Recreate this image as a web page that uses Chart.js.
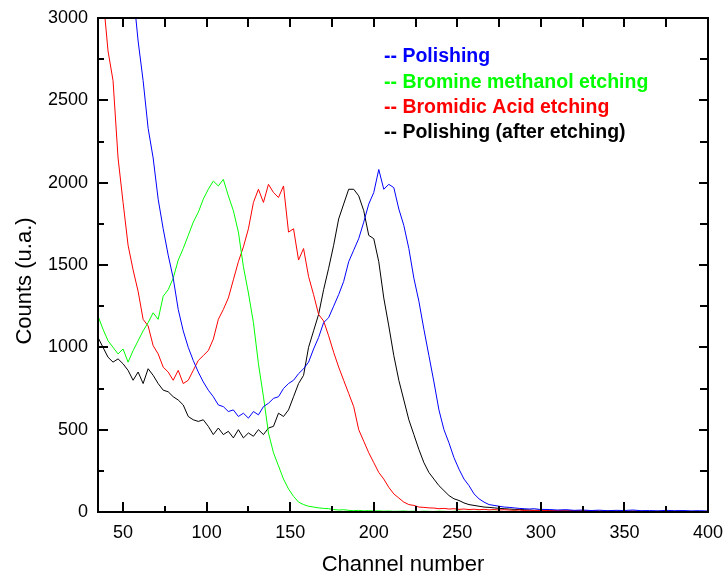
<!DOCTYPE html>
<html lang="en">
<head>
    <meta charset="UTF-8">
    <title>Counts vs channel</title>
    <script src="https://cdn.jsdelivr.net/npm/chart.js"></script>
    <style>
        body { margin: 0; background: #fff; }
    </style>
</head>
<body>
    <canvas id="grafico" width="724" height="575"></canvas>

<script>
    // channel numbers (x)
    const canais = [35, 38, 41, 44, 47, 50, 53, 56, 59, 62, 65, 68, 71, 74, 77, 80, 83, 86, 89, 92,
        95, 98, 101, 104, 107, 110, 113, 116, 119, 122, 125, 128, 131, 134, 137, 140, 143, 146, 149, 152,
        155, 158, 161, 164, 167, 170, 173, 176, 179, 182, 185, 188, 191, 194, 197, 200, 203, 206, 209, 212,
        215, 218, 221, 224, 227, 230, 233, 236, 239, 242, 245, 248, 251, 254, 257, 260, 263, 266, 269, 272,
        275, 278, 281, 284, 287, 290, 293, 296, 299,
        305, 310, 315, 320, 325, 330, 335, 340, 345, 350, 355, 360, 365, 370, 375, 380, 385, 390, 395, 400];

    const polimento = [5500, 5150, 4800, 4450, 4100, 3750, 3450, 3170, 2860, 2620, 2330, 2150, 1900, 1720, 1560, 1420, 1230, 1100, 1000, 920,
        850, 790, 740, 700, 650, 640, 610, 620, 580, 600, 570, 610, 590, 640, 660, 690, 700, 750, 780, 800,
        840, 870, 910, 990, 1060, 1150, 1180, 1250, 1320, 1400, 1520, 1590, 1660, 1760, 1870, 1940, 2080, 1960, 1990, 1970,
        1840, 1740, 1600, 1420, 1280, 1110, 950, 790, 620, 500, 420, 330, 260, 200, 160, 110, 80, 60, 45, 40,
        35, 30, 28, 25, 22, 20, 18, 20, 16,
        15, 12, 14, 10, 12, 9, 11, 8, 10, 9, 12, 8, 9, 7, 10, 8, 9, 7, 8, 6];

    const bromoMetanol = [1190, 1110, 1040, 1000, 960, 990, 910, 980, 1040, 1100, 1150, 1210, 1170, 1310, 1350, 1420, 1530, 1600, 1680, 1760,
        1820, 1900, 1960, 2010, 1980, 2020, 1920, 1830, 1700, 1490, 1330, 1150, 900, 700, 480, 360, 280, 200, 140, 95,
        60, 45, 35, 30, 25, 22, 20, 15, 12, 14, 10, 8, 10, 7, 8, 6, 7, 5, 6, 4,
        5, 6, 4, 5, 3, 5, 4, 3, 5, 4, 3, 4, 5, 3, 4, 3, 4, 2, 3, 4,
        3, 2, 3, 4, 2, 3, 2, 3, 2,
        3, 2, 3, 2, 2, 3, 2, 2, 3, 2, 2, 2, 3, 2, 2, 2, 2, 3, 2, 2];

    const acidoBromidrico = [3350, 3130, 2800, 2620, 2150, 1880, 1620, 1470, 1340, 1170, 1130, 1010, 960, 880, 850, 800, 860, 780, 800, 860,
        920, 950, 980, 1050, 1170, 1230, 1300, 1410, 1520, 1610, 1720, 1880, 1960, 1880, 1990, 1940, 1910, 1980, 1700, 1720,
        1530, 1600, 1430, 1320, 1200, 1160, 1070, 970, 880, 800, 720, 640, 500, 430, 360, 300, 240, 200, 150, 110,
        85, 60, 45, 40, 30, 28, 25, 24, 20, 22, 18, 20, 16, 18, 15, 17, 14, 16, 13, 15,
        12, 14, 12, 10, 12, 9, 11, 8, 10,
        8, 9, 7, 8, 6, 7, 5, 6, 5, 4, 5, 4, 3, 4, 3, 4, 3, 2, 3, 2];

    const polimentoAposAtaque = [1060, 1000, 940, 910, 930, 900, 860, 800, 850, 780, 870, 830, 780, 740, 730, 700, 680, 650, 580, 560,
        550, 560, 520, 470, 510, 470, 490, 450, 500, 450, 480, 460, 500, 470, 510, 520, 600, 580, 620, 700,
        780, 830, 1000, 1100, 1200, 1350, 1480, 1620, 1780, 1870, 1960, 1960, 1920, 1830, 1680, 1660, 1520, 1300, 1130, 950,
        800, 680, 560, 470, 380, 300, 240, 200, 160, 130, 100, 80, 70, 55, 45, 40, 35, 30, 28, 25,
        22, 20, 18, 16, 15, 14, 12, 10, 11,
        9, 8, 7, 8, 6, 7, 5, 6, 5, 4, 5, 4, 3, 4, 3, 4, 3, 2, 3, 2];

    const ticksX = [50, 100, 150, 200, 250, 300, 350, 400];
    const ticksXMenor = [75, 125, 175, 225, 275, 325, 375];
    const ticksYMenor = [250, 750, 1250, 1750, 2250, 2750];

    const nomes = ["-- Polishing", "-- Bromine methanol etching", "-- Bromidic Acid etching", "-- Polishing (after etching)"];
    const cores = ["#0000ff", "#00ff00", "#ff0000", "#000000"];
    const series = [polimento, bromoMetanol, acidoBromidrico, polimentoAposAtaque];

    const fonte = "'Liberation Sans', Arial, sans-serif";

    // ticks para dentro + moldura + legenda + titulo do eixo y
    const extras = {
        id: "extras",
        afterDraw(chart) {
            const c = chart.ctx;
            const a = chart.chartArea;
            const sx = chart.scales.x;
            const sy = chart.scales.y;
            c.save();
            c.strokeStyle = "#000";
            c.lineWidth = 2;
            c.strokeRect(a.left, a.top, a.right - a.left, a.bottom - a.top);

            c.beginPath();
            ticksX.forEach(v => {
                const px = Math.round(sx.getPixelForValue(v));
                c.moveTo(px, a.bottom); c.lineTo(px, a.bottom - 10);
                c.moveTo(px, a.top); c.lineTo(px, a.top + 9);
            });
            ticksXMenor.forEach(v => {
                const px = Math.round(sx.getPixelForValue(v));
                c.moveTo(px, a.bottom); c.lineTo(px, a.bottom - 6);
                c.moveTo(px, a.top); c.lineTo(px, a.top + 9);
            });
            sy.ticks.forEach(t => {
                const py = Math.round(sy.getPixelForValue(t.value));
                c.moveTo(a.left, py); c.lineTo(a.left + 10, py);
                c.moveTo(a.right, py); c.lineTo(a.right - 9, py);
            });
            ticksYMenor.forEach(v => {
                const py = Math.round(sy.getPixelForValue(v));
                c.moveTo(a.left, py); c.lineTo(a.left + 6, py);
                c.moveTo(a.right, py); c.lineTo(a.right - 8, py);
            });
            c.stroke();

            // legenda
            c.font = "bold 19.5px " + fonte;
            c.textBaseline = "middle";
            c.textAlign = "left";
            nomes.forEach((n, i) => {
                c.fillStyle = cores[i];
                c.fillText(n, 384, 57 + i * 25.3);
            });

            // titulo eixo y
            c.fillStyle = "#000";
            c.font = "22px " + fonte;
            c.textAlign = "center";
            c.translate(25, 281);
            c.rotate(-Math.PI / 2);
            c.fillText("Counts (u.a.)", 0, 0);
            c.restore();
        }
    };

    const ctx = document.getElementById("grafico").getContext("2d");
    new Chart(ctx, {
        type: "line",
        data: {
            datasets: series.map((s, i) => ({
                label: nomes[i],
                data: canais.map((ch, j) => ({ x: ch, y: s[j] })),
                borderColor: cores[i],
                backgroundColor: cores[i],
                borderWidth: 1,
                pointRadius: 0,
                tension: 0
            }))
        },
        options: {
            responsive: false,
            animation: false,
            layout: { padding: { top: 18, right: 16, left: 0, bottom: 0 } },
            plugins: {
                legend: { display: false },
                tooltip: { enabled: false }
            },
            scales: {
                x: {
                    type: "linear",
                    min: 35,
                    max: 400,
                    afterBuildTicks: s => { s.ticks = ticksX.map(v => ({ value: v })); },
                    afterFit: s => { s.height = 63; s.paddingLeft = 0; s.paddingRight = 0; },
                    grid: { display: false, drawTicks: false },
                    border: { display: true, width: 2, color: "#000" },
                    ticks: { color: "#000", padding: 10, maxRotation: 0, font: { family: fonte, size: 18 } },
                    title: { display: true, text: "Channel number", color: "#000", padding: { top: 0, bottom: -3 }, font: { family: fonte, size: 22 } }
                },
                y: {
                    min: 0,
                    max: 3000,
                    ticks: { stepSize: 500, color: "#000", padding: 10, font: { family: fonte, size: 18 }, callback: v => String(v) },
                    afterFit: s => { s.width = 98; s.paddingTop = 0; s.paddingBottom = 0; },
                    grid: { display: false, drawTicks: false },
                    border: { display: true, width: 2, color: "#000" },
                    title: { display: false }
                }
            }
        },
        plugins: [extras]
    });
</script>
</body>
</html>
